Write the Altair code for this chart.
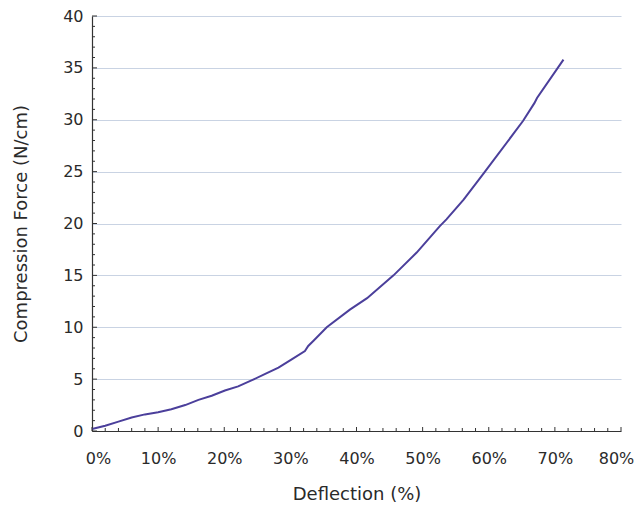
import altair as alt
import pandas as pd

# Curve
deflection = [0, 2, 4, 6, 8, 10, 12, 14.1, 16.1, 18.1, 20.1, 22.1, 24.2, 26.2, 28.2,
              30.2, 32.2, 32.7, 33.5, 35.5, 39, 41.6, 45.6, 49.1, 52.6, 53.6, 56.2,
              59.2, 65.2, 66.9, 67.3, 71.3]
force = [0.2, 0.5, 0.9, 1.3, 1.6, 1.8, 2.1, 2.5, 3.0, 3.4, 3.9, 4.3, 4.9, 5.5, 6.1,
         6.9, 7.7, 8.2, 8.7, 10.0, 11.7, 12.8, 15.0, 17.2, 19.75, 20.4, 22.3,
         24.8, 29.9, 31.6, 32.1, 35.8]

x_ticks = [0, 10, 20, 30, 40, 50, 60, 70, 80]
y_ticks = [0, 5, 10, 15, 20, 25, 30, 35, 40]
x_minor = [v for v in range(0, 81, 2) if v % 10 != 0]
y_minor = [v for v in range(0, 41) if v % 5 != 0]

W, H = 529, 415
FONT = "DejaVu Sans"
TXT = "#2a2a2a"
AX = "#333333"

df = pd.DataFrame({"d": deflection, "f": force})
xs = alt.Scale(domain=[0, 80], nice=False, zero=False)
ys = alt.Scale(domain=[0, 40], nice=False)

x_axis = alt.Axis(values=x_ticks, labelExpr="datum.value + '%'", ticks=False,
                  grid=False, domainColor=AX, labelFlush=False,
                  labelOffset={"condition": [{"test": "datum.value === 0", "value": 6},
                                             {"test": "datum.value === 80", "value": -5}],
                               "value": 0},
                  labelPadding=19, titlePadding=19)
y_axis = alt.Axis(values=y_ticks, ticks=False, grid=True, gridColor="#c9d3e3",
                  domainColor=AX, labelPadding=9, titlePadding=32)
XT = "Deflection (%)"
YT = "Compression Force (N/cm)"

line = alt.Chart(df).mark_line(color="#4b3f9b", strokeWidth=2).encode(
    x=alt.X("d:Q", scale=xs, title=XT, axis=x_axis),
    y=alt.Y("f:Q", scale=ys, title=YT, axis=y_axis),
)

xmaj = alt.Chart(pd.DataFrame({"t": x_ticks})).mark_rule(color=AX, strokeWidth=1).encode(
    x=alt.X("t:Q", scale=xs, title=XT, axis=x_axis), y=alt.value(H), y2=alt.value(H - 4))
xmin = alt.Chart(pd.DataFrame({"t": x_minor})).mark_rule(color=AX, strokeWidth=1).encode(
    x=alt.X("t:Q", scale=xs, title=XT, axis=x_axis), y=alt.value(H), y2=alt.value(H - 3))
ymaj = alt.Chart(pd.DataFrame({"t": y_ticks})).mark_rule(color=AX, strokeWidth=1).encode(
    y=alt.Y("t:Q", scale=ys, title=YT, axis=y_axis), x=alt.value(0), x2=alt.value(5))
ymin = alt.Chart(pd.DataFrame({"t": y_minor})).mark_rule(color=AX, strokeWidth=1).encode(
    y=alt.Y("t:Q", scale=ys, title=YT, axis=y_axis), x=alt.value(0), x2=alt.value(3))

chart = alt.layer(line, xmaj, xmin, ymaj, ymin).properties(
    width=W, height=H,
    autosize=alt.AutoSizeParams(type="none"),
    padding={"left": 84, "top": 8, "right": 15, "bottom": 72},
).configure_view(stroke=None).configure_axis(
    labelFont=FONT, titleFont=FONT, labelFontSize=16, titleFontSize=18,
    labelColor=TXT, titleColor=TXT, titleFontWeight="normal", domainWidth=1.2,
)

chart.save("out.html", embed_options={"renderer": "svg", "actions": False})
